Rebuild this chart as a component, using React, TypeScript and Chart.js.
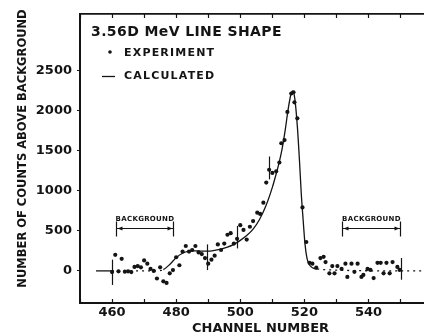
import React, { useEffect, useRef } from "react";
import { Chart, registerables } from "chart.js";

Chart.register(...registerables);

// ---------- text ----------
const CHART_TITLE = "3.56D MeV LINE SHAPE";
const X_TITLE = "CHANNEL NUMBER";
const Y_TITLE = "NUMBER OF COUNTS ABOVE BACKGROUND";
const LEGEND_EXPERIMENT = "EXPERIMENT";
const LEGEND_CALCULATED = "CALCULATED";
const BG_LABEL = "BACKGROUND";

// ---------- axes ----------
const X_MIN = 450;
const X_MAX = 557;
const Y_MIN = -400;
const Y_MAX = 3200;
const X_TICKS = [450, 460, 470, 480, 490, 500, 510, 520, 530, 540, 550];
const X_LABELED = [460, 480, 500, 520, 540];
const Y_TICKS = [0, 500, 1000, 1500, 2000, 2500];

// ---------- experiment points ----------
const expChannels = [
  460, 461, 462, 463, 464, 465, 466, 467, 468, 469,
  470, 471, 472, 473, 474, 475, 476, 477, 478, 479,
  480, 481, 482, 483, 484, 485, 486, 487, 488, 489,
  490, 491, 492, 493, 494, 495, 496, 497, 498, 499,
  500, 501, 502, 503, 504, 505.3, 506.2, 507.2, 508.1, 509,
  510, 511.2, 512.2, 512.8, 513.8, 514.7, 515.9, 516.6, 516.9, 517.8,
  519.4, 520.6, 521.6, 522.5, 523.7, 525, 526, 526.6, 527.8, 528.7,
  529.4, 530.3, 531.6, 532.8, 533.4, 534.7, 535.6, 536.6, 537.8, 538.4,
  539.7, 540.6, 541.6, 542.8, 543.8, 544.7, 545.6, 546.6, 547.5, 549,
  549.7,
];
const expCounts = [
  -15, 200, -5, 150, -10, -5, -15, 50, 60, 45,
  130, 90, 25, 0, -95, 45, -130, -150, -30, 10,
  170, 70, 240, 310, 240, 260, 310, 230, 210, 160,
  90, 140, 190, 330, 260, 340, 450, 470, 340, 400,
  570, 510, 390, 550, 620, 725, 710, 850, 1100, 1260,
  1220, 1240, 1350, 1590, 1630, 1980, 2210, 2225, 2100, 1900,
  790, 360, 100, 90, 40, 160, 175, 110, -30, 60,
  -30, 60, 25, 90, -75, 90, -12, 90, -75, -50,
  25, 12, -90, 100, 100, -30, 100, -30, 110, 50,
  12,
];

// ---------- calculated line shape ----------
const calcChannels = [
  455, 460, 474, 476, 478, 480, 482, 484, 486, 488,
  490, 492, 494, 496, 498, 500, 502, 504, 506, 508,
  510, 511, 512, 513, 514, 515, 515.8, 516.3, 517, 517.8,
  518.5, 519, 519.6, 520.2, 520.8, 521.5, 522.5, 524, 530, 550,
  557,
];
const calcCounts = [
  0, 0, 0, 15, 80, 165, 220, 245, 250, 245,
  245, 255, 270, 295, 330, 380, 440, 520, 640, 810,
  1040, 1180, 1330, 1510, 1750, 2030, 2200, 2240, 2150, 1800,
  1350, 980, 640, 330, 160, 80, 40, 25, 10, 0,
  0,
];

// ---------- error bars ----------
const errChannels = [460, 489.5, 499, 509, 550];
const errLow = [-175, 10, 280, 1140, -110];
const errHigh = [140, 330, 560, 1425, 160];

// ---------- background regions ----------
const bgStart = [461.3, 531.6];
const bgEnd = [479, 549.7];
const BG_LEVEL = 530;

const INK = "#141414";
const FONT = "'DejaVu Sans', 'Liberation Sans', sans-serif";

const decorations = {
  id: "decorations",
  afterDatasetsDraw(chart: any) {
    const { ctx, chartArea } = chart;
    const xs = chart.scales.x;
    const ys = chart.scales.y;
    ctx.save();
    ctx.strokeStyle = INK;
    ctx.fillStyle = INK;

    // error bars
    ctx.lineWidth = 1.2;
    for (let i = 0; i < errChannels.length; i++) {
      const px = Math.round(xs.getPixelForValue(errChannels[i])) + 0.5;
      ctx.beginPath();
      ctx.moveTo(px, ys.getPixelForValue(errLow[i]));
      ctx.lineTo(px, ys.getPixelForValue(errHigh[i]));
      ctx.stroke();
    }

    // background brackets
    for (let i = 0; i < bgStart.length; i++) {
      const x1 = Math.round(xs.getPixelForValue(bgStart[i])) + 0.5;
      const x2 = Math.round(xs.getPixelForValue(bgEnd[i])) + 0.5;
      const y = Math.round(ys.getPixelForValue(BG_LEVEL)) + 0.5;
      ctx.lineWidth = 1.2;
      ctx.beginPath();
      ctx.moveTo(x1, y);
      ctx.lineTo(x2, y);
      ctx.moveTo(x1, y - 7);
      ctx.lineTo(x1, y + 8);
      ctx.moveTo(x2, y - 7);
      ctx.lineTo(x2, y + 8);
      ctx.stroke();
      // arrow heads
      ctx.beginPath();
      ctx.moveTo(x1 + 1, y);
      ctx.lineTo(x1 + 6, y - 2);
      ctx.lineTo(x1 + 6, y + 2);
      ctx.closePath();
      ctx.moveTo(x2 - 1, y);
      ctx.lineTo(x2 - 6, y - 2);
      ctx.lineTo(x2 - 6, y + 2);
      ctx.closePath();
      ctx.fill();
      ctx.font = `bold 7px ${FONT}`;
      (ctx as any).letterSpacing = "0.3px";
      ctx.textAlign = "center";
      ctx.textBaseline = "alphabetic";
      ctx.fillText(BG_LABEL, (x1 + x2) / 2, y - 8);
      (ctx as any).letterSpacing = "0px";
    }

    // title + legend block
    const lx = chartArea.left;
    const ly = chartArea.top;
    ctx.textAlign = "left";
    ctx.textBaseline = "middle";
    ctx.font = `bold 14px ${FONT}`;
    (ctx as any).letterSpacing = "0.4px";
    ctx.fillText(CHART_TITLE, lx + 11, ly + 18);
    ctx.font = `bold 11px ${FONT}`;
    (ctx as any).letterSpacing = "1.2px";
    ctx.fillText(LEGEND_EXPERIMENT, lx + 44, ly + 39);
    ctx.fillText(LEGEND_CALCULATED, lx + 44, ly + 62);
    (ctx as any).letterSpacing = "0px";
    ctx.beginPath();
    ctx.arc(lx + 30, ly + 38, 1.8, 0, Math.PI * 2);
    ctx.fill();
    ctx.lineWidth = 1.3;
    ctx.beginPath();
    ctx.moveTo(lx + 22, ly + 62.5);
    ctx.lineTo(lx + 35, ly + 62.5);
    ctx.stroke();
    ctx.restore();
  },
};

export default function App() {
  const canvasRef = useRef<HTMLCanvasElement | null>(null);

  useEffect(() => {
    const canvas = canvasRef.current;
    if (!canvas) return;
    const tickFont = { family: FONT, size: 13, weight: "bold" as const };
    const chart = new Chart(canvas, {
      type: "line",
      data: {
        datasets: [
          {
            label: LEGEND_EXPERIMENT,
            data: expChannels.map((c, i) => ({ x: c, y: expCounts[i] })),
            showLine: false,
            pointRadius: 2.1,
            pointBorderWidth: 0,
            pointBackgroundColor: INK,
            borderColor: INK,
          },
          {
            label: LEGEND_CALCULATED,
            data: calcChannels.map((c, i) => ({ x: c, y: calcCounts[i] })),
            borderColor: INK,
            borderWidth: 1.3,
            pointRadius: 0,
            cubicInterpolationMode: "monotone",
            segment: {
              borderDash: (ctx: any) =>
                ctx.p0.parsed.x >= 460 &&
                Math.abs(ctx.p0.parsed.y) < 30 &&
                Math.abs(ctx.p1.parsed.y) < 30
                  ? [2, 4]
                  : undefined,
            },
          },
        ],
      },
      options: {
        responsive: false,
        animation: false,
        events: [],
        layout: { padding: { left: 0, right: 3, top: 0, bottom: 0 } },
        plugins: { legend: { display: false }, tooltip: { enabled: false } },
        scales: {
          x: {
            type: "linear",
            position: "bottom",
            min: X_MIN,
            max: X_MAX,
            afterBuildTicks: (s: any) => {
              s.ticks = X_TICKS.map((v) => ({ value: v }));
            },
            afterFit: (s: any) => {
              s.height = 33;
            },
            ticks: {
              font: tickFont,
              color: INK,
              padding: 6,
              maxRotation: 0,
              autoSkip: false,
              callback: (v: any) => (X_LABELED.includes(Number(v)) ? String(v) : ""),
            },
            grid: {
              drawOnChartArea: false,
              drawTicks: true,
              tickLength: -4,
              color: INK,
              tickWidth: 1.2,
            },
            border: { display: true, color: INK, width: 2 },
            title: {
              display: true,
              text: "    " + X_TITLE,
              color: INK,
              font: { family: FONT, size: 13, weight: "bold" },
              padding: { top: 0, bottom: 0 },
            },
          },
          x2: {
            type: "linear",
            position: "top",
            min: X_MIN,
            max: X_MAX,
            afterBuildTicks: (s: any) => {
              s.ticks = X_TICKS.map((v) => ({ value: v }));
            },
            afterFit: (s: any) => {
              s.height = 14;
            },
            ticks: { display: false },
            grid: {
              drawOnChartArea: false,
              drawTicks: true,
              tickLength: -4,
              color: INK,
              tickWidth: 1.2,
            },
            border: { display: true, color: INK, width: 1.8 },
          },
          y: {
            type: "linear",
            position: "left",
            min: Y_MIN,
            max: Y_MAX,
            afterBuildTicks: (s: any) => {
              s.ticks = Y_TICKS.map((v) => ({ value: v }));
            },
            afterFit: (s: any) => {
              s.width = 80;
            },
            ticks: {
              font: tickFont,
              color: INK,
              padding: 5,
              autoSkip: false,
              callback: (v: any) => String(v),
            },
            grid: {
              drawOnChartArea: false,
              drawTicks: true,
              tickLength: 3,
              color: INK,
              tickWidth: 1.2,
            },
            border: { display: true, color: INK, width: 2 },
            title: {
              display: true,
              text: "     " + Y_TITLE,
              color: INK,
              font: { family: FONT, size: 11.5, weight: "bold" },
              padding: { top: 16, bottom: 0 },
            },
          },
        },
      },
      plugins: [decorations],
    });
    return () => chart.destroy();
  }, []);

  return (
    <div style={{ position: "fixed", left: 0, top: 0, width: 427, height: 336, background: "#fff" }}>
      <canvas ref={canvasRef} width={427} height={336} style={{ display: "block" }} />
    </div>
  );
}
